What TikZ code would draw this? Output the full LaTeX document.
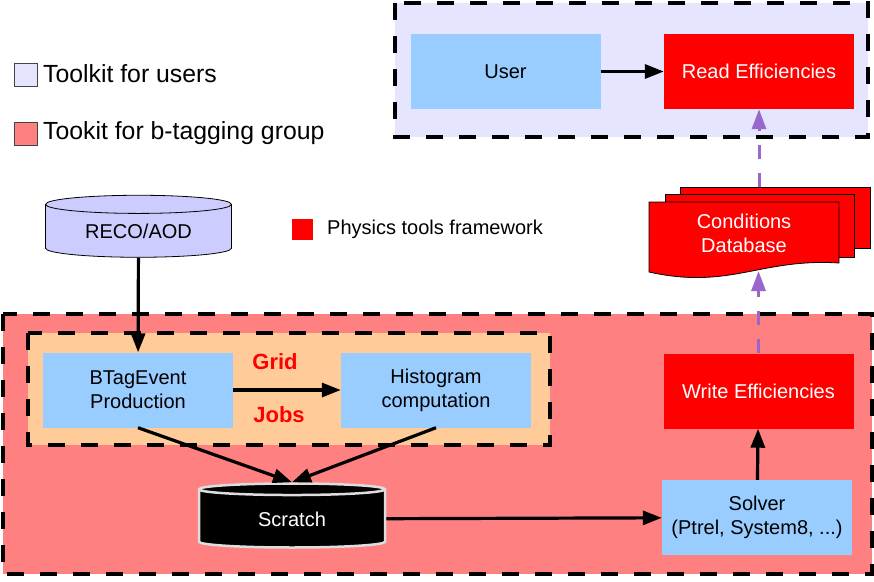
\documentclass[tikz,border=0pt]{standalone}
\usepackage{fontspec}
\setmainfont{Liberation Sans}
\usetikzlibrary{arrows.meta,shapes.geometric}
\definecolor{INK}{HTML}{000000}
\definecolor{SKY}{HTML}{99CCFF}
\definecolor{FIRE}{HTML}{FF0000}
\definecolor{USERBG}{HTML}{E5E5FF}
\definecolor{GROUPBG}{HTML}{FF8080}
\definecolor{GRIDBG}{HTML}{FFCC99}
\definecolor{DISK}{HTML}{CCCCFF}
\definecolor{LILAC}{HTML}{9966CC}
\definecolor{RIM}{HTML}{DDDDDD}
\definecolor{EDGE}{HTML}{444444}

\begin{document}
\begin{tikzpicture}[x=1pt,y=-1pt]
\tikzset{frame/.style={line width=3.5pt,INK,dash pattern=on 17pt off 16pt},
 box/.style={rectangle,inner sep=0pt,minimum width=190pt,minimum height=75pt,align=center,font=\fontsize{20}{24}\selectfont},
 bluebox/.style={box,fill=SKY,text=INK},redbox/.style={box,fill=FIRE,text=white},
 disk/.style={cylinder,shape border rotate=90,aspect=0.17,inner sep=0pt,minimum width=186pt,minimum height=62pt,font=\fontsize{20}{24}\selectfont},
 flow/.style={-{Triangle[length=19pt,width=14pt]},line width=3.2pt,INK},
 feed/.style={-{Triangle[length=20pt,width=14pt]},line width=3pt,LILAC,dash pattern=on 14pt off 14pt},
 keysq/.style={rectangle,inner sep=0pt,minimum size=23pt,draw=EDGE,line width=0.8pt},
 keytxt/.style={anchor=west,inner sep=0pt,font=\fontsize{24.8}{28}\selectfont},
 gridtxt/.style={inner sep=0pt,text=FIRE,font=\fontsize{22}{26}\selectfont\bfseries},
 sheet/.style={fill=FIRE,draw=INK,line width=0.8pt}}
\useasboundingbox (0,0) rectangle (874,581);
% group areas
\draw[frame,fill=USERBG] (395,3) rectangle (868,137);
\draw[frame,fill=GROUPBG] (3,314) rectangle (872,574);
\draw[frame,fill=GRIDBG] (28,333) rectangle (550,445);
% legend
\node[keysq,fill=USERBG] (keyuser) at (25.5,74.5) {};
\node[keytxt] (txtuser) at (43,74) {Toolkit for users};
\node[keysq,fill=GROUPBG] (keygroup) at (25.5,133.5) {};
\node[keytxt] (txtgroup) at (43,133) {Tookit for b-tagging group};
\node[rectangle,inner sep=0pt,minimum size=21pt,fill=FIRE] (keyphys) at (302.5,229.5) {};
\node[anchor=west,inner sep=0pt,font=\fontsize{20}{24}\selectfont] (txtphys) at (327,229) {Physics tools framework};
% boxes
\node[bluebox] (user) at (505.5,71.5) {User};
\node[redbox] (read) at (759,71.5) {Read Efficiencies};
\node[disk,fill=DISK,draw=INK,line width=0.8pt] (reco) at (138.5,231) {RECO/AOD};
\node[bluebox] (btag) at (138,390) {BTagEvent\\Production};
\node[bluebox] (hist) at (436,390) {Histogram\\computation};
\node[gridtxt] (grid) at (275,362) {Grid};
\node[gridtxt] (jobs) at (279,415) {Jobs};
\node[disk,fill=INK,draw=RIM,line width=2.5pt,text=white,minimum height=64pt] (scratch) at (292,519) {Scratch};
\node[bluebox] (solver) at (757,517.5) {Solver\\(Ptrel, System8, ...)};
\node[redbox] (write) at (758.5,391) {Write Efficiencies};
% conditions database
\draw[sheet] (680,187) rectangle (870,248);
\draw[sheet] (665,194) rectangle (854,257);
\draw[sheet] (649,202) -- (839,202) -- (839,263) .. controls (760,258) and (730,290) .. (649,272) -- cycle;
\node[box,fill=none,text=white,minimum height=64pt] (db) at (744,233) {Conditions\\Database};
\coordinate (dbtop) at (759,187);
\coordinate (dbfoot) at (758.5,271);
% connectors
\draw[flow] (user) -- (read);
\draw[flow] (reco) -- (btag);
\draw[flow] (btag) -- (hist);
\draw[flow] (btag.south) -- (scratch.north);
\draw[flow] (hist.south) -- (scratch.north);
\draw[flow] (scratch) -- (solver);
\draw[flow] (solver) -- (write);
\draw[feed] (write.north) -- (dbfoot);
\draw[feed] (dbtop) -- (read.south);
\end{tikzpicture}
\end{document}
